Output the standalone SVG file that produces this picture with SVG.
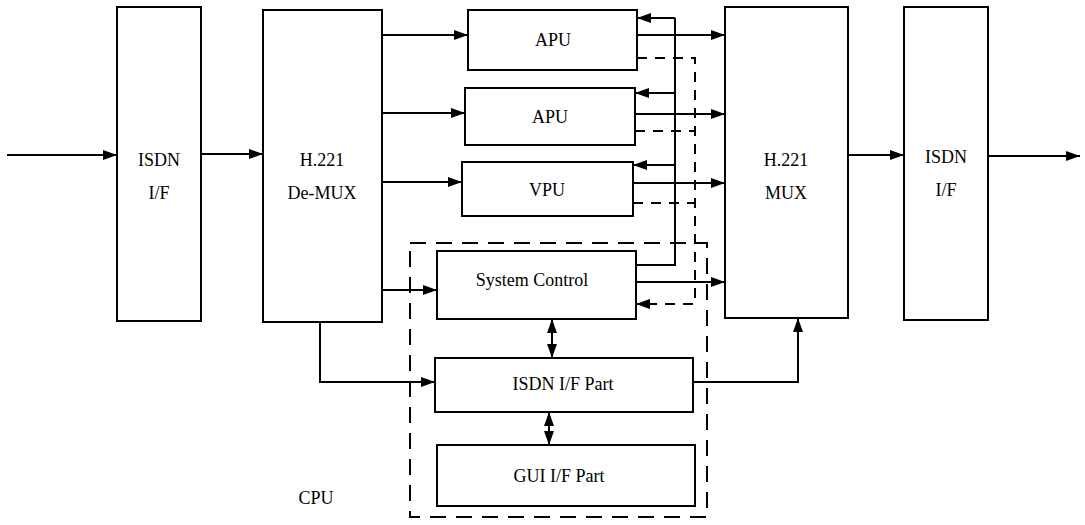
<svg xmlns="http://www.w3.org/2000/svg" width="1085" height="525" viewBox="0 0 1085 525">
<style>
.box{fill:#fff;stroke:#000;stroke-width:2}
.lbl{font-family:"Liberation Serif","Times New Roman",serif;font-size:18px;fill:#000;text-anchor:middle;dominant-baseline:central}
.ln{fill:none;stroke:#000;stroke-width:2}
.arr{marker-end:url(#ah)}
.dash{fill:none;stroke:#000;stroke-width:2;stroke-dasharray:10 8}
.cpu{fill:none;stroke:#000;stroke-width:2;stroke-dasharray:16 10}
.dbl{marker-start:url(#ah);marker-end:url(#ah)}
</style>
<defs>
<marker id="ah" viewBox="0 0 14 10" refX="14" refY="5" markerWidth="14" markerHeight="10" markerUnits="userSpaceOnUse" orient="auto-start-reverse">
<path d="M0,0 L14,5 L0,10 z" fill="#000"/>
</marker>
</defs>
<rect width="1085" height="525" fill="#fff"/>

<g id="cpu-group">
<rect class="cpu" x="410" y="243" width="297" height="274"/>
<text class="lbl" x="316" y="498">CPU</text>
</g>

<g id="connectors">
<path class="ln arr" d="M7,155 H117"/>
<path class="ln arr" d="M201,154 H263"/>
<path class="ln arr" d="M382,35 H468"/>
<path class="ln arr" d="M382,113 H465"/>
<path class="ln arr" d="M382,182 H462"/>
<path class="ln arr" d="M382,290 H437"/>
<path class="ln arr" d="M320,322 V382 H435"/>
<path class="ln" d="M636,265 H675 V18"/>
<path class="ln arr" d="M675,18 H637"/>
<path class="ln arr" d="M675,93 H635"/>
<path class="ln arr" d="M675,165 H633"/>
<path class="ln arr" d="M637,35 H725"/>
<path class="ln arr" d="M635,114 H725"/>
<path class="ln arr" d="M633,183 H725"/>
<path class="ln arr" d="M636,282 H725"/>
<path class="dash arr" d="M637,58 H695 V304 H636"/>
<path class="dash" d="M635,131 H695"/>
<path class="dash" d="M633,203 H695"/>
<path class="ln dbl" d="M552,319 V358"/>
<path class="ln dbl" d="M549,412 V445"/>
<path class="ln arr" d="M693,382 H798 V318"/>
<path class="ln arr" d="M848,155 H904"/>
<path class="ln arr" d="M988,156 H1080"/>
</g>

<g id="isdn-if-in">
<rect class="box" x="117" y="7" width="84" height="314"/>
<text class="lbl" x="159" y="160">ISDN</text>
<text class="lbl" x="159" y="193">I/F</text>
</g>
<g id="demux">
<rect class="box" x="263" y="10" width="119" height="312"/>
<text class="lbl" x="322" y="160">H.221</text>
<text class="lbl" x="322" y="193">De-MUX</text>
</g>
<g id="apu1">
<rect class="box" x="468" y="10" width="169" height="60"/>
<text class="lbl" x="553" y="40">APU</text>
</g>
<g id="apu2">
<rect class="box" x="465" y="88" width="170" height="57"/>
<text class="lbl" x="550" y="117">APU</text>
</g>
<g id="vpu">
<rect class="box" x="462" y="162" width="171" height="54"/>
<text class="lbl" x="547" y="190">VPU</text>
</g>
<g id="mux">
<rect class="box" x="725" y="7" width="123" height="311"/>
<text class="lbl" x="786" y="160">H.221</text>
<text class="lbl" x="786" y="193">MUX</text>
</g>
<g id="isdn-if-out">
<rect class="box" x="904" y="7" width="84" height="313"/>
<text class="lbl" x="946" y="157">ISDN</text>
<text class="lbl" x="946" y="190">I/F</text>
</g>
<g id="system-control">
<rect class="box" x="437" y="251" width="199" height="68"/>
<text class="lbl" x="532" y="280">System Control</text>
</g>
<g id="isdn-if-part">
<rect class="box" x="435" y="358" width="258" height="54"/>
<text class="lbl" x="563" y="384">ISDN I/F Part</text>
</g>
<g id="gui-if-part">
<rect class="box" x="437" y="445" width="258" height="61"/>
<text class="lbl" x="559" y="476">GUI I/F Part</text>
</g>
</svg>
